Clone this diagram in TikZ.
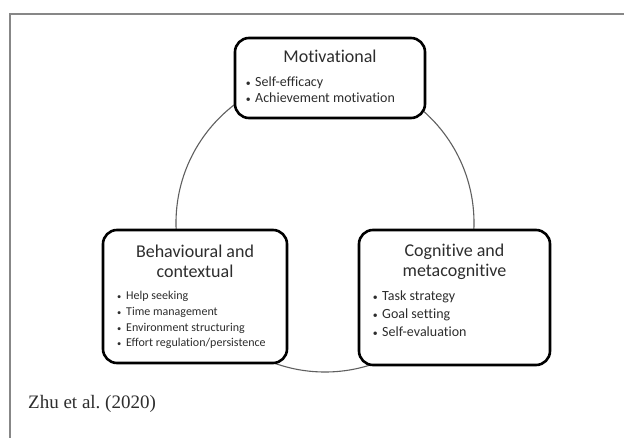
\documentclass[tikz,border=0pt]{standalone}
\usepackage{fontspec}
\setmainfont{Carlito}[RawFeature={-liga}]
\newfontfamily\citefont{Liberation Serif}
\definecolor{textgray}{RGB}{45,45,45}
\definecolor{ringgray}{RGB}{95,95,95}
\definecolor{framegray}{RGB}{135,135,135}
\tikzset{
  panel/.style={draw=black, line width=2.6pt, rounded corners=14pt, fill=white, inner sep=0pt},
  ttl/.style={font=\fontsize{18}{20}\selectfont, inner sep=0pt, text=textgray, anchor=base},
  itembig/.style={font=\fontsize{14}{16}\selectfont, inner sep=0pt, text=textgray, anchor=base west},
  itemsmall/.style={font=\fontsize{12}{14}\selectfont, inner sep=0pt, text=textgray, anchor=base west},
}
\newcommand{\blt}[1]{\makebox[14pt][c]{\raisebox{0.12ex}{\scalebox{0.7}{\textbullet}}}#1}
\begin{document}
\begin{tikzpicture}[x=1pt,y=-1pt]
\useasboundingbox (0,0) rectangle (624,438);
\fill[white] (0,0) rectangle (624,438);
% outer frame (partly cropped)
\draw[framegray, line width=2pt] (10,438) -- (10,14.5) -- (624,14.5);
% ring
\node[draw=ringgray, line width=1.1pt, circle, minimum size=298pt, inner sep=0pt] (ring) at (325,223) {};
% boxes
\node[panel, minimum width=190pt, minimum height=80pt] (mot) at (330,78) {};
\node[panel, minimum width=184pt, minimum height=133pt] (beh) at (195,296.5) {};
\node[panel, minimum width=191pt, minimum height=135pt] (cog) at (454.5,297.5) {};
% motivational
\node[ttl] (motT) at (330,63) {Motivational};
\node[itembig] (mot1) at (241,87) {\blt{Self-efficacy}};
\node[itembig] (mot2) at (241,103) {\blt{Achievement motivation}};
% behavioural
\node[ttl] (behT1) at (195,258) {Behavioural and};
\node[ttl] (behT2) at (195,278) {contextual};
\node[itemsmall] (beh1) at (112,300) {\blt{Help seeking}};
\node[itemsmall] (beh2) at (112,316) {\blt{Time management}};
\node[itemsmall] (beh3) at (112,332) {\blt{Environment structuring}};
\node[itemsmall] (beh4) at (112,347) {\blt{Effort regulation/persistence}};
% cognitive
\node[ttl] (cogT1) at (454.5,257) {Cognitive and};
\node[ttl] (cogT2) at (454.5,277) {metacognitive};
\node[itembig] (cog1) at (368,301) {\blt{Task strategy}};
\node[itembig] (cog2) at (368,319) {\blt{Goal setting}};
\node[itembig] (cog3) at (368,337) {\blt{Self-evaluation}};
% citation
\node[font=\citefont\fontsize{19}{22}\selectfont, text=textgray, inner sep=0pt, anchor=base west] (cite) at (28,408) {Zhu et al.\ (2020)};
\end{tikzpicture}
\end{document}
